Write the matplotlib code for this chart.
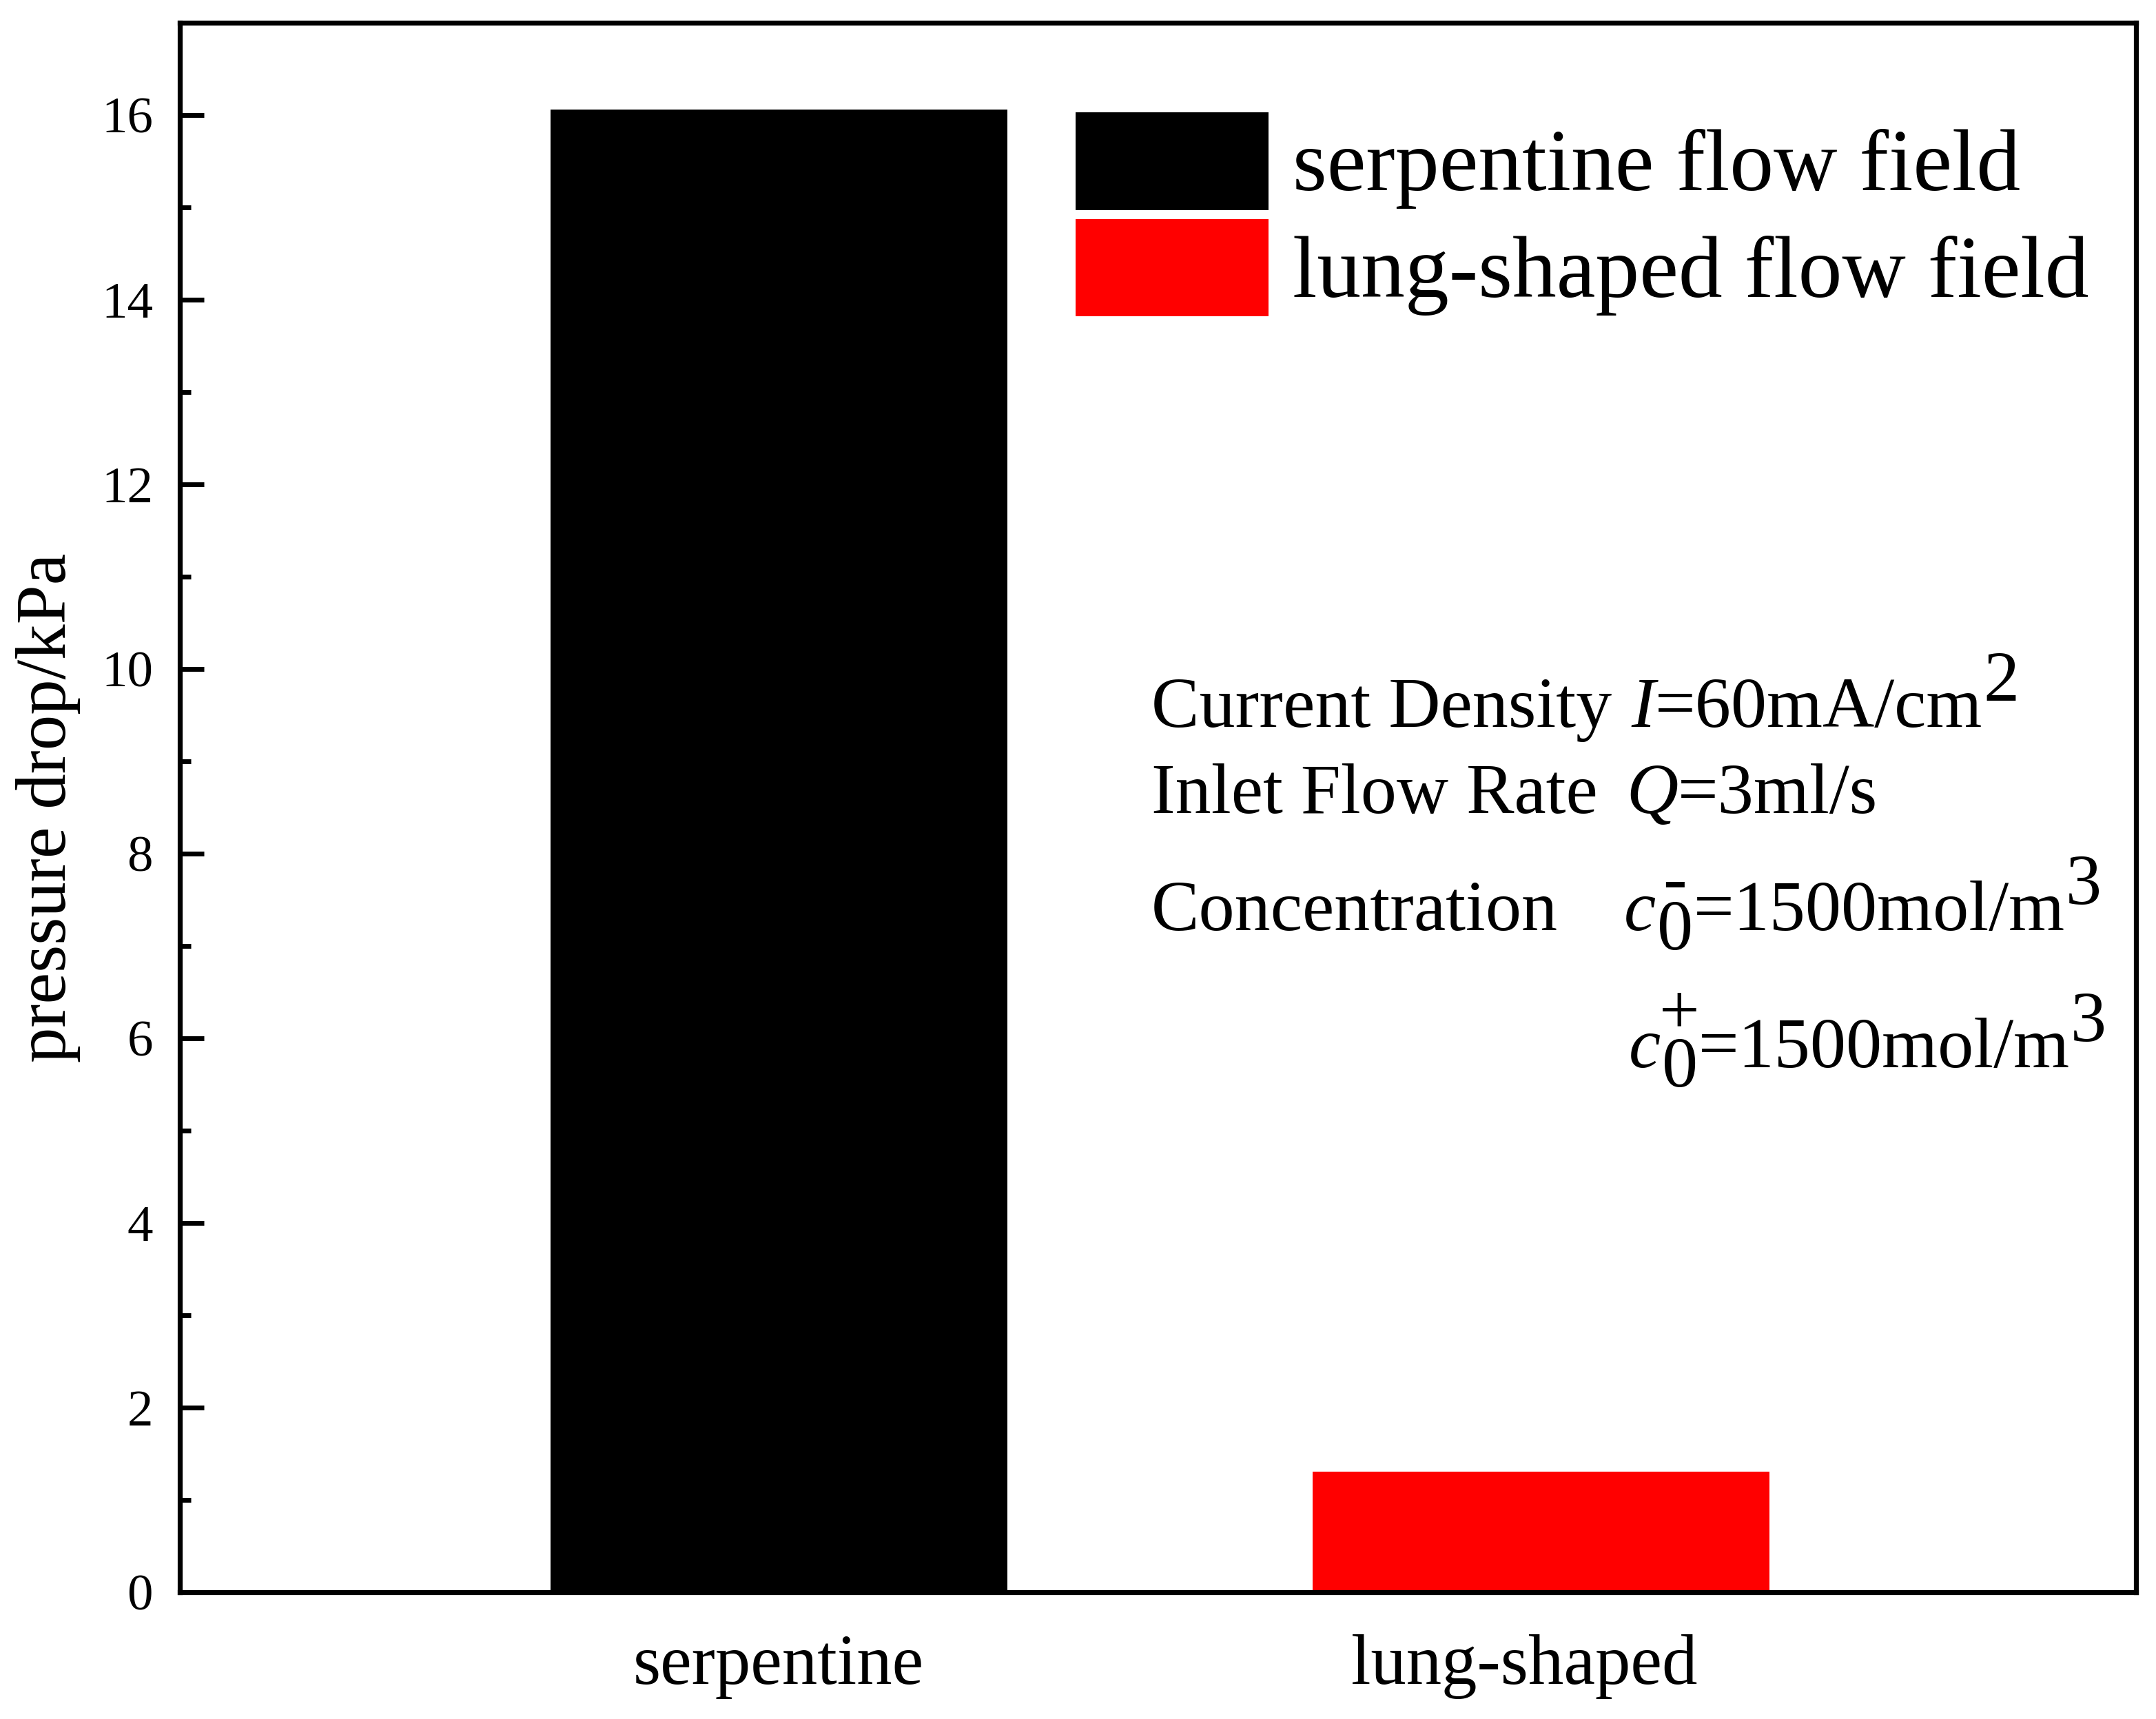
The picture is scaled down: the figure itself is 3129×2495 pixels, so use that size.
import matplotlib
matplotlib.use("Agg")
import matplotlib.pyplot as plt
from matplotlib.transforms import ScaledTranslation
import numpy as np

categories = ["serpentine", "lung-shaped"]
pressure_drop = [16.06, 1.305]
bar_colors = ["#000000", "#ff0000"]
legend_labels = ["serpentine flow field", "lung-shaped flow field"]
y_ticks = [0, 2, 4, 6, 8, 10, 12, 14, 16]

plt.rcParams['font.family'] = ['Liberation Serif', 'DejaVu Serif']

fig = plt.figure(figsize=(15.645, 12.475), dpi=200)
ax = fig.add_axes([0.0834, 0.0737, 0.9074, 0.9131])

x = np.arange(len(categories))
bars = ax.bar(x, pressure_drop, width=0.6, color=bar_colors, linewidth=0)

ax.set_xlim(-0.786, 1.781)
ax.set_ylim(0, 17)
ax.set_xticks(x)
ax.set_xticklabels(categories, fontsize=37)
ax.set_yticks(y_ticks)
ax.set_yticklabels([str(v) for v in y_ticks], fontsize=27)
ax.set_yticks(np.arange(1, 17, 2), minor=True)
ax.tick_params(axis='y', which='major', direction='in', length=12.5, width=2.5, pad=14)
ax.tick_params(axis='y', which='minor', direction='in', length=5.8, width=2.5)
ax.tick_params(axis='x', which='both', length=0, pad=22)
for s in ax.spines.values():
    s.set_linewidth(2.6)

lab = ax.get_xticklabels()[1]
lab.set_transform(lab.get_transform() + ScaledTranslation(-8.6 / 72, 0, fig.dpi_scale_trans))

ax.set_ylabel("pressure drop/kPa", fontsize=37, labelpad=11)

ax.legend(bars.patches, legend_labels, loc='upper left', bbox_to_anchor=(0.4578, 0.943),
          frameon=False, fontsize=46, handlelength=2.19, handleheight=1.332,
          labelspacing=0.1, handletextpad=0.28, borderpad=0, borderaxespad=0)

fs = 37.5


def put(s, xf, yf, **kw):
    return ax.text(xf, yf, s, transform=ax.transAxes, fontsize=fs, va='baseline', **kw)


def chain(prev, s, dx=0.0, dy=0.0, **kw):
    return ax.annotate(s, xy=(1, 0), xycoords=prev, xytext=(dx, dy),
                       textcoords='offset points', ha='left', va='bottom',
                       fontsize=fs, **kw)


def above(prev, s, dy):
    return ax.annotate(s, xy=(0.5, 1), xycoords=prev, xytext=(0, dy),
                       textcoords='offset points', ha='center', va='center',
                       fontsize=fs)


raise_pt = 13.7
lower_pt = 10.0

put("Current Density", 0.4967, 0.5514)
t = put("I", 0.7418, 0.5514, fontstyle='italic')
t = chain(t, "=60mA/cm", dx=0)
chain(t, "2", dx=0.5, dy=raise_pt)

put("Inlet Flow Rate", 0.4967, 0.4965)
t = put("Q", 0.7393, 0.4965, fontstyle='italic')
chain(t, "=3ml/s", dx=0)

put("Concentration", 0.4967, 0.4219)
t = put("c", 0.7383, 0.4219, fontstyle='italic')
z = chain(t, "0", dx=0.5, dy=-lower_pt)
above(z, "-", 8)
t = chain(z, "=1500mol/m", dx=0.5, dy=lower_pt)
chain(t, "3", dx=0, dy=raise_pt)

t = put("c", 0.7407, 0.3345, fontstyle='italic')
z = chain(t, "0", dx=0.5, dy=-lower_pt)
above(z, "+", 11)
t = chain(z, "=1500mol/m", dx=0.5, dy=lower_pt)
chain(t, "3", dx=0, dy=raise_pt)

fig.savefig("out.png", dpi=200)
